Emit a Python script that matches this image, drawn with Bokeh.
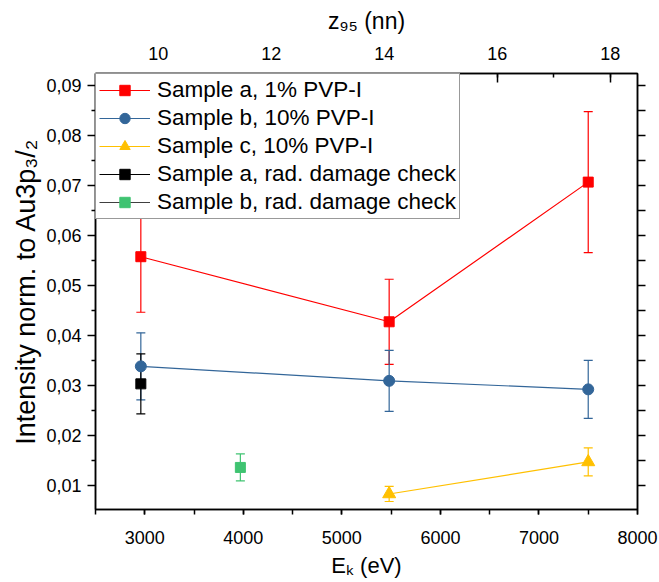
from bokeh.plotting import figure
from bokeh.models import (Range1d, LinearAxis, SingleIntervalTicker, FixedTicker,
                          CustomJSTickFormatter, ColumnDataSource, Whisker, TeeHead,
                          Legend, LegendItem)
from bokeh.embed import file_html
from bokeh.resources import INLINE

# ---------------- data ----------------
energy_a = [2960, 5480, 7500]
intensity_a = [0.0558, 0.0428, 0.0707]
error_a = [0.0111, 0.0085, 0.0141]

energy_b = [2960, 5480, 7500]
intensity_b = [0.0339, 0.0310, 0.0293]
error_b = [0.0067, 0.0061, 0.0058]

energy_c = [5480, 7500]
intensity_c = [0.0084, 0.0148]
error_c = [0.0015, 0.0028]

energy_rad_a = [2960]
intensity_rad_a = [0.0304]
error_rad_a = [0.0060]

energy_rad_b = [3970]
intensity_rad_b = [0.0137]
error_rad_b = [0.0027]

series_labels = ["Sample a, 1% PVP-I", "Sample b, 10% PVP-I", "Sample c, 10% PVP-I",
                 "Sample a, rad. damage check", "Sample b, rad. damage check"]

y_ticks = [0.01, 0.02, 0.03, 0.04, 0.05, 0.06, 0.07, 0.08, 0.09]
y_tick_labels = ["0,01", "0,02", "0,03", "0,04", "0,05", "0,06", "0,07", "0,08", "0,09"]
y_minor_ticks = [0.005, 0.015, 0.025, 0.035, 0.045, 0.055, 0.065, 0.075, 0.085]

x_title = "E\u2096 (eV)"
z_title = "z\u2089\u2085 (nn)"
y_title = "Intensity norm. to Au3p\u2083/\u2082"

FONT = "Liberation Sans"
W, H = 659, 582

p = figure(width=W, height=H, output_backend="svg", toolbar_location=None,
           x_range=Range1d(2500, 8000), y_range=Range1d(0.0053, 0.0924),
           x_axis_location=None, y_axis_location=None,
           min_border_left=95, min_border_right=22, min_border_top=73, min_border_bottom=73)
p.xgrid.visible = False
p.ygrid.visible = False
p.outline_line_color = "black"
p.outline_line_width = 1.5
p.background_fill_color = "white"
p.border_fill_color = "white"
p.extra_x_ranges = {"z": Range1d(8.89, 18.48)}


def style_axis(ax):
    ax.axis_line_color = "black"
    ax.axis_line_width = 1.5
    ax.major_tick_line_color = "black"
    ax.major_tick_line_width = 1.5
    ax.minor_tick_line_color = "black"
    ax.minor_tick_line_width = 1.5
    ax.major_label_text_font = FONT
    ax.major_label_text_font_size = "18px"
    ax.major_label_text_color = "black"
    ax.axis_label_text_font = FONT
    ax.axis_label_text_font_style = "normal"
    ax.axis_label_text_color = "black"


bottom = LinearAxis(ticker=SingleIntervalTicker(interval=1000, num_minor_ticks=2),
                    axis_label=x_title)
style_axis(bottom)
bottom.major_tick_out = 5
bottom.major_tick_in = 0
bottom.minor_tick_out = 5
bottom.minor_tick_in = 0
bottom.major_label_standoff = 16
bottom.axis_label_text_font_size = "22px"
bottom.axis_label_standoff = 6
p.add_layout(bottom, "below")

left = LinearAxis(ticker=FixedTicker(ticks=y_ticks, minor_ticks=y_minor_ticks),
                  formatter=CustomJSTickFormatter(
                      args=dict(tvals=y_ticks, tlabels=y_tick_labels),
                      code="const i = tvals.findIndex(t => Math.abs(t - tick) < 1e-9); return i >= 0 ? tlabels[i] : '';"),
                  axis_label=y_title)
style_axis(left)
left.major_tick_out = 8
left.major_tick_in = 0
left.minor_tick_out = 4
left.minor_tick_in = 0
left.major_label_standoff = 6
left.axis_label_text_font_size = "27px"
left.axis_label_standoff = 2
p.add_layout(left, "left")

right = LinearAxis(ticker=FixedTicker(ticks=y_ticks, minor_ticks=y_minor_ticks),
                   formatter=CustomJSTickFormatter(code="return '';"))
style_axis(right)
right.major_tick_out = 8
right.major_tick_in = 0
right.minor_tick_out = 8
right.minor_tick_in = 0
right.major_label_standoff = 0
right.major_label_text_font_size = "0px"
p.add_layout(right, "right")

top = LinearAxis(x_range_name="z", ticker=SingleIntervalTicker(interval=2, num_minor_ticks=2),
                 axis_label=z_title)
style_axis(top)
top.major_tick_out = 0
top.major_tick_in = 9
top.minor_tick_out = 0
top.minor_tick_in = 4
top.major_label_standoff = 14
top.axis_label_text_font_size = "23px"
top.axis_label_standoff = 10
p.add_layout(top, "above")


def add_series(x, y, err, color, marker, size, line_color):
    src = ColumnDataSource(dict(x=x, y=y,
                                upper=[v + e for v, e in zip(y, err)],
                                lower=[v - e for v, e in zip(y, err)]))
    wh = Whisker(source=src, base="x", upper="upper", lower="lower",
                 line_color=color, line_width=1.2, level="underlay",
                 upper_head=TeeHead(size=9, line_color=color, line_width=1.2),
                 lower_head=TeeHead(size=9, line_color=color, line_width=1.2))
    p.add_layout(wh)
    lr = p.line("x", "y", source=src, line_color=line_color, line_width=1.2)
    sr = p.scatter("x", "y", source=src, marker=marker, size=size,
                   fill_color=color, line_color=color)
    return [lr, sr]


r_a = add_series(energy_a, intensity_a, error_a, "#FF0000", "square", 10, "#FF0000")
r_b = add_series(energy_b, intensity_b, error_b, "#336699", "circle", 11, "#336699")
r_c = add_series(energy_c, intensity_c, error_c, "#FFC000", "triangle", 13, "#FFC000")
r_ra = add_series(energy_rad_a, intensity_rad_a, error_rad_a, "#000000", "square", 10, "#000000")
r_rb = add_series(energy_rad_b, intensity_rad_b, error_rad_b, "#3FC371", "square", 10, "#404040")

legend = Legend(items=[LegendItem(label=lab, renderers=rr) for lab, rr in
                       zip(series_labels, [r_a, r_b, r_c, r_ra, r_rb])],
                location="top_left", margin=0, padding=3, spacing=2,
                glyph_width=51, glyph_height=26, label_height=26, label_standoff=7,
                label_text_font=FONT, label_text_font_size="22.5px", label_text_color="black",
                border_line_color="#333333", border_line_width=1,
                background_fill_color="white", background_fill_alpha=1)
p.add_layout(legend)

open("out.html", "w").write(file_html(p, INLINE))
